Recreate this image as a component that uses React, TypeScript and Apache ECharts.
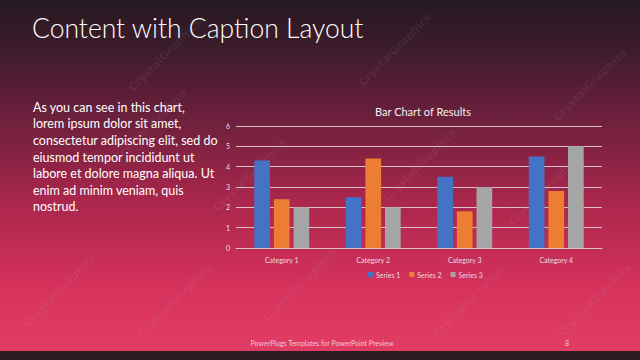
import React, { useEffect, useRef } from "react";
import * as echarts from "echarts";

const categories = ["Category 1", "Category 2", "Category 3", "Category 4"];
const seriesNames = ["Series 1", "Series 2", "Series 3"];
const series1 = [4.3, 2.5, 3.5, 4.5];
const series2 = [2.4, 4.4, 1.8, 2.8];
const series3 = [2, 2, 3, 5];
const seriesColors = ["#4472C4", "#ED7D31", "#A5A5A5"];

const slideTitle = "Content with Caption Layout";
const captionLines = [
  "As you can see in this chart,",
  "lorem ipsum dolor sit amet,",
  "consectetur adipiscing elit, sed do",
  "eiusmod tempor incididunt ut",
  "labore et dolore magna aliqua. Ut",
  "enim ad minim veniam, quis",
  "nostrud.",
];
const footerText = "PowerPlugs Templates for PowerPoint Preview";
const pageNumber = "8";
const watermarkSpots = [
  [165, 55], [395, 50], [590, 85], [150, 125], [250, 175], [420, 165],
  [545, 190], [60, 290], [175, 300], [300, 285], [470, 300], [595, 300],
];

export default function App() {
  const ref = useRef<HTMLDivElement>(null);
  useEffect(() => {
    document.body.style.margin = "0";
    const chart = echarts.init(ref.current!, null, { renderer: "svg" });
    const values = [series1, series2, series3];
    const watermarks = watermarkSpots.map(([x, y]) => ({
      type: "text",
      x,
      y,
      rotation: Math.PI / 4,
      z: 1,
      silent: true,
      style: {
        text: "CrystalGraphics",
        fill: "rgba(255,255,255,0.06)",
        stroke: "rgba(110,110,110,0.10)",
        lineWidth: 0.5,
        font: "bold 11px 'DejaVu Sans'",
        align: "center",
        verticalAlign: "middle",
      },
    }));
    chart.setOption({
      animation: false,
      backgroundColor: new echarts.graphic.LinearGradient(0, 0, 0, 1, [
        { offset: 0, color: "#261a22" },
        { offset: 0.12, color: "#3a1b2a" },
        { offset: 0.3, color: "#651f3a" },
        { offset: 0.55, color: "#a8264c" },
        { offset: 0.8, color: "#d6325c" },
        { offset: 0.95, color: "#e03c63" },
        { offset: 1, color: "#e03c63" },
      ]),
      title: {
        text: "Bar Chart of Results",
        left: 418,
        textAlign: "center",
        top: 101,
        textStyle: { color: "#f2f2f2", fontSize: 11, fontWeight: "normal", fontFamily: "Lato" },
      },
      legend: {
        data: seriesNames,
        left: 363,
        top: 266,
        itemWidth: 5,
        itemHeight: 5,
        itemGap: 9,
        icon: "rect",
        textStyle: { color: "#e8d8de", fontSize: 7, fontFamily: "Lato", padding: [0, 0, 0, -2] },
      },
      grid: { left: 236, right: 38, top: 126, bottom: 112, containLabel: false },
      xAxis: {
        type: "category",
        data: categories,
        axisLine: { lineStyle: { color: "#d9bfc8", width: 1 } },
        axisTick: { show: false },
        axisLabel: { color: "#eadde2", fontSize: 7, fontFamily: "Lato", margin: 8 },
      },
      yAxis: {
        type: "value",
        min: 0,
        max: 6,
        interval: 1,
        axisLine: { show: false },
        axisTick: { show: false },
        splitLine: { lineStyle: { color: "#d9bfc8", width: 1 } },
        axisLabel: { color: "#eadde2", fontSize: 7, fontFamily: "Lato", margin: 6 },
      },
      series: seriesNames.map((name, i) => ({
        name,
        type: "bar",
        data: values[i],
        barGap: "25%",
        barCategoryGap: "40%",
        itemStyle: { color: seriesColors[i] },
        z: 3,
      })),
      graphic: [
        ...watermarks,
        {
          type: "text",
          left: 32,
          top: 14,
          z: 5,
          style: { text: slideTitle, fill: "#ffffff", font: "300 26.5px Lato" },
        },
        {
          type: "text",
          left: 33,
          top: 99,
          z: 5,
          style: {
            text: captionLines.join("\n"),
            fill: "#ffffff",
            font: "12.5px Lato",
            lineHeight: 16.6,
          },
        },
        {
          type: "rect",
          shape: { x: 0, y: 351, width: 640, height: 9 },
          z: 4,
          style: { fill: "#2b1c22" },
        },
        {
          type: "text",
          x: 322,
          y: 343,
          z: 5,
          style: {
            text: footerText,
            fill: "#f4c6d2",
            font: "7px Lato",
            align: "center",
            verticalAlign: "middle",
          },
        },
        {
          type: "text",
          x: 567,
          y: 343,
          z: 5,
          style: {
            text: pageNumber,
            fill: "#f4c6d2",
            font: "7px Lato",
            align: "center",
            verticalAlign: "middle",
          },
        },
      ],
    });
    return () => chart.dispose();
  }, []);
  return (
    <div
      ref={ref}
      style={{ position: "fixed", left: 0, top: 0, width: 640, height: 360 }}
    />
  );
}
